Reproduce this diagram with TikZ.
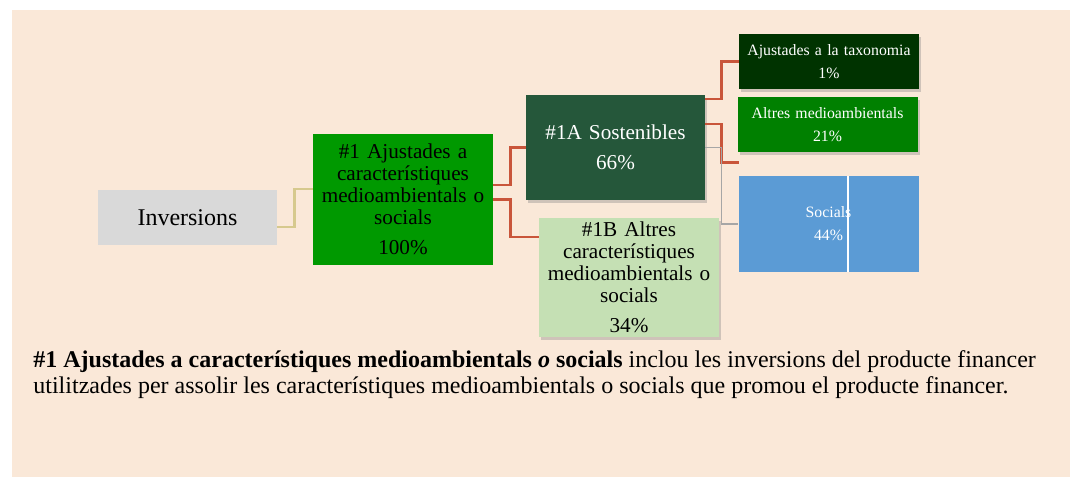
\documentclass[tikz,border=0pt]{standalone}
\usepackage{fontspec}
\setmainfont{Liberation Serif}
\usetikzlibrary{shadows}
\definecolor{bgpeach}{HTML}{FAE8D8}
\definecolor{invgray}{HTML}{D9D9D9}
\definecolor{ajgreen}{HTML}{009900}
\definecolor{sosgreen}{HTML}{25573A}
\definecolor{altgreen}{HTML}{C5E0B4}
\definecolor{taxgreen}{HTML}{003300}
\definecolor{medgreen}{HTML}{008000}
\definecolor{socblue}{HTML}{5B9BD5}
\definecolor{redline}{HTML}{C9553A}
\definecolor{tanline}{HTML}{D6C98E}
\NewDocumentCommand\Elbow{O{redline}mmm}%
{%
\draw[#1,line width=1.1pt] (#2) -- ++(#3,0) |- (#4);%
}

\begin{document}
\begin{tikzpicture}[x=0.5pt,y=-0.5pt,
  box/.style={inner sep=1pt,align=center,text width=#1},
  shade/.style={drop shadow={opacity=0.35,shadow xshift=1pt,shadow yshift=-1.5pt}}]
\useasboundingbox (0,0) rectangle (1075,477);
\fill[bgpeach] (12,10) rectangle (1070,477);
% nodes
\node[box=86pt,fill=invgray,minimum width=89.5pt,minimum height=27.5pt,font=\fontsize{12}{14}\selectfont] (inv) at (187.5,217.5) {Inversions};
\node[box=88pt,fill=ajgreen,minimum width=89pt,minimum height=65.5pt,font=\fontsize{10.6}{11}\selectfont] (aj) at (403,199.5) {\#1 Ajustades a\\característiques\\medioambientals o\\socials\\[4pt]100\%};
\node[box=86pt,fill=sosgreen,shade,text=white,minimum width=89.5pt,minimum height=52.5pt,font=\fontsize{10.6}{15}\selectfont] (sos) at (615.5,147.5) {\#1A Sostenibles\\66\%};
\node[box=88pt,fill=altgreen,shade,minimum width=89pt,minimum height=59.5pt,font=\fontsize{10.6}{11}\selectfont] (alt) at (629,277.5) {\#1B Altres\\característiques\\medioambientals o\\socials\\[4pt]34\%};
\node[box=88pt,fill=taxgreen,shade,text=white,minimum width=89pt,minimum height=27.5pt,font=\fontsize{7.9}{11.5}\selectfont] (tax) at (829,61.5) {Ajustades a la taxonomia\\1\%};
\node[box=88pt,fill=medgreen,shade,text=white,minimum width=89.5pt,minimum height=27.5pt,font=\fontsize{7.9}{11.5}\selectfont] (med) at (827.5,124.5) {Altres medioambientals\\21\%};
\node[box=88pt,fill=socblue,text=white,minimum width=89.5pt,minimum height=48pt,font=\fontsize{7.9}{11.5}\selectfont] (soc) at (828.5,224) {Socials\\44\%};
\draw[white,line width=0.8pt] ([xshift=9.75pt]soc.north) -- ([xshift=9.75pt]soc.south);
\coordinate (free) at (739,162.5);
% connectors
\Elbow[tanline]{[yshift=-4.75pt]inv.east}{17}{[yshift=5.25pt]aj.west}
\Elbow{[yshift=7.25pt]aj.east}{17}{sos.west}
\Elbow{aj.east}{17}{[yshift=20.25pt]alt.west}
\Elbow{[yshift=24.25pt]sos.east}{16}{tax.west}
\Elbow{[yshift=11.75pt]sos.east}{16}{free}
\draw[gray!70,line width=0.6pt] (sos.east) -- ++(16,0) |- (soc.west);
% note
\node[anchor=base west,align=left,inner sep=0pt,font=\fontsize{12}{13}\selectfont] (note) at (33,393)
  {\textbf{\#1 Ajustades a característiques medioambientals \textit{o} socials} inclou les inversions del producte financer\\
  utilitzades per assolir les característiques medioambientals o socials que promou el producte financer.};
\end{tikzpicture}
\end{document}
